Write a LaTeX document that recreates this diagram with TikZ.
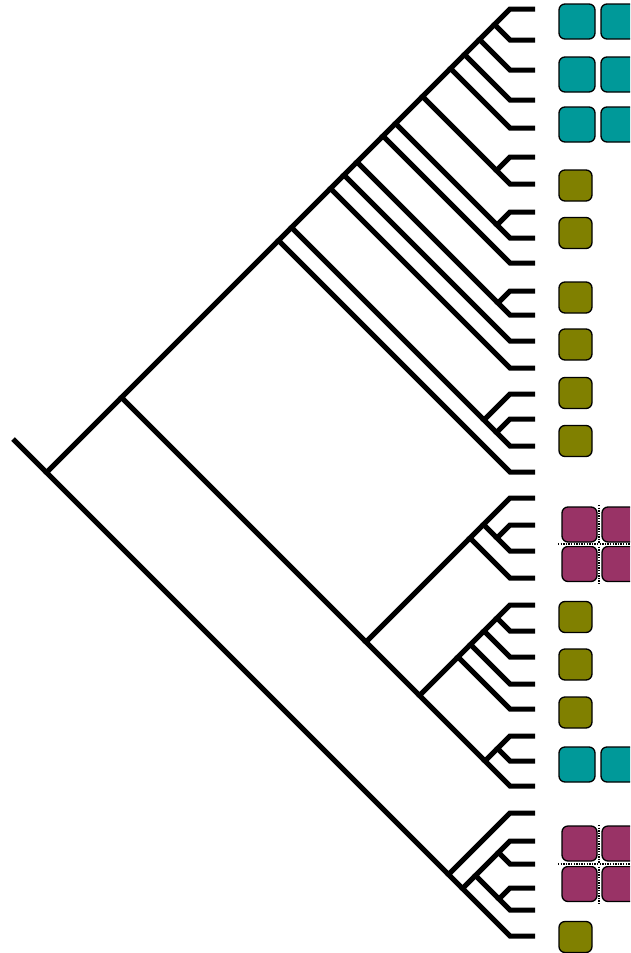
\documentclass[tikz,border=0pt]{standalone}
\definecolor{tealc}{RGB}{0,153,153}
\definecolor{olivec}{RGB}{128,128,0}
\definecolor{magc}{RGB}{153,51,102}
\begin{document}
\begin{tikzpicture}[x=1pt,y=-1pt,
  br/.style={line width=5pt, line join=miter, line cap=butt},
  boxbase/.style={draw=black, line width=1.3pt, rounded corners=6pt, inner sep=0pt},
  tealbox/.style={boxbase, fill=tealc, minimum width=36pt, minimum height=35pt},
  olivebox/.style={boxbase, fill=olivec, minimum width=33pt, minimum height=31pt},
  magbox/.style={boxbase, fill=magc, minimum width=35pt, minimum height=35pt},
  sepback/.style={line width=3pt, white},
  sep/.style={line width=1.4pt, dash pattern=on 1.3pt off 1.3pt}]
\useasboundingbox (0,0) rectangle (630,953);
\clip (0,0) rectangle (630,953);
% leaves: diagonal end (l) and stub tip (t)
\foreach \i/\y in {1/9,2/40,3/70,4/100,5/128,6/157,7/184,8/212,9/238,10/263,11/291,12/315,13/341,14/368,15/394,16/419,17/446,18/472,19/498,20/525,21/551,22/578,23/605,24/631,25/657,26/684,27/709,28/736,29/761,30/786,31/813,32/841,33/864,34/888,35/910,36/936}{
  \coordinate (l\i) at (510,\y);
  \coordinate (t\i) at (535,\y);
}
% internal nodes
\coordinate (a1) at (494.5,24.5);
\coordinate (a2) at (479.5,39.5);
\coordinate (a3) at (464.5,54.5);
\coordinate (a4) at (450.5,68.5);
\coordinate (c1) at (496.5,170.5);
\coordinate (a5) at (422.5,96.5);
\coordinate (c2) at (497,225);
\coordinate (a6) at (395.5,123.5);
\coordinate (a7) at (383,136);
\coordinate (c3) at (498,303);
\coordinate (a8) at (357,162);
\coordinate (a9) at (344,175);
\coordinate (a10) at (330.5,188.5);
\coordinate (c4) at (496.5,432.5);
\coordinate (c5) at (484,420);
\coordinate (a11) at (291.5,227.5);
\coordinate (A1) at (278.5,240.5);
\coordinate (c6) at (497,538);
\coordinate (c7) at (483.5,524.5);
\coordinate (C) at (470,538);
\coordinate (e1) at (497,618);
\coordinate (e2) at (484,631);
\coordinate (e3) at (470.5,644.5);
\coordinate (E) at (458,657);
\coordinate (f1) at (497.5,748.5);
\coordinate (F) at (485,761);
\coordinate (D) at (419.5,695.5);
\coordinate (A2) at (366,642);
\coordinate (A) at (121.5,397.5);
\coordinate (b1) at (498.5,852.5);
\coordinate (b2) at (499,899);
\coordinate (b3) at (475.5,875.5);
\coordinate (b4) at (462.5,888.5);
\coordinate (B) at (448.5,874.5);
\coordinate (R) at (46.5,472.5);
\coordinate (rs) at (13,439);
% tree
\draw[br] (rs) -- (R);
\draw[br] (A) -- (R) -- (B);
\draw[br] (A1) -- (A) -- (A2);
\draw[br] (a11) -- (A1) -- (l18) -- (t18);
\draw[br] (a10) -- (a11) -- (c5);
\draw[br] (t15) -- (l15) -- (c5) -- (c4);
\draw[br] (t16) -- (l16) -- (c4) -- (l17) -- (t17);
\draw[br] (a9) -- (a10) -- (l14) -- (t14);
\draw[br] (a8) -- (a9) -- (l13) -- (t13);
\draw[br] (a7) -- (a8) -- (c3);
\draw[br] (t11) -- (l11) -- (c3) -- (l12) -- (t12);
\draw[br] (a6) -- (a7) -- (l10) -- (t10);
\draw[br] (a5) -- (a6) -- (c2);
\draw[br] (t8) -- (l8) -- (c2) -- (l9) -- (t9);
\draw[br] (a4) -- (a5) -- (c1);
\draw[br] (t6) -- (l6) -- (c1) -- (l7) -- (t7);
\draw[br] (a3) -- (a4) -- (l5) -- (t5);
\draw[br] (a2) -- (a3) -- (l4) -- (t4);
\draw[br] (a1) -- (a2) -- (l3) -- (t3);
\draw[br] (t1) -- (l1) -- (a1) -- (l2) -- (t2);
\draw[br] (C) -- (A2) -- (D);
\draw[br] (c7) -- (C) -- (l22) -- (t22);
\draw[br] (t19) -- (l19) -- (c7) -- (c6);
\draw[br] (t20) -- (l20) -- (c6) -- (l21) -- (t21);
\draw[br] (E) -- (D) -- (F);
\draw[br] (e3) -- (E) -- (l27) -- (t27);
\draw[br] (e2) -- (e3) -- (l26) -- (t26);
\draw[br] (e1) -- (e2) -- (l25) -- (t25);
\draw[br] (t23) -- (l23) -- (e1) -- (l24) -- (t24);
\draw[br] (f1) -- (F) -- (l30) -- (t30);
\draw[br] (t28) -- (l28) -- (f1) -- (l29) -- (t29);
\draw[br] (t31) -- (l31) -- (B) -- (b4);
\draw[br] (b3) -- (b4) -- (l36) -- (t36);
\draw[br] (b1) -- (b3) -- (b2);
\draw[br] (t32) -- (l32) -- (b1) -- (l33) -- (t33);
\draw[br] (t34) -- (l34) -- (b2) -- (l35) -- (t35);
% teal boxes
\node[tealbox] (tq1) at (577,21.5) {};
\node[tealbox] (tq2) at (619,21.5) {};
\node[tealbox] (tq3) at (577,74.5) {};
\node[tealbox] (tq4) at (619,74.5) {};
\node[tealbox] (tq5) at (577,124.5) {};
\node[tealbox] (tq6) at (619,124.5) {};
\node[tealbox] (tq7) at (577,764.5) {};
\node[tealbox] (tq8) at (619,764.5) {};
% olive boxes
\foreach \k/\y in {1/185.5,2/233,3/297.5,4/344.5,5/393,6/441,7/617,8/664.5,9/712.5,10/937}{
  \node[olivebox] (ob\k) at (575.5,\y) {};
}
% magenta grids
\node[magbox] (mg1) at (579.5,524.5) {};
\node[magbox] (mg2) at (619.5,524.5) {};
\node[magbox] (mg3) at (579.5,564) {};
\node[magbox] (mg4) at (619.5,564) {};
\node[magbox] (mg5) at (579.5,843.5) {};
\node[magbox] (mg6) at (619.5,843.5) {};
\node[magbox] (mg7) at (579.5,884) {};
\node[magbox] (mg8) at (619.5,884) {};
\coordinate (v1a) at (599,505); \coordinate (v1b) at (599,585);
\coordinate (h1a) at (558,544); \coordinate (h1b) at (632,544);
\coordinate (v2a) at (599,825); \coordinate (v2b) at (599,904);
\coordinate (h2a) at (558,864); \coordinate (h2b) at (632,864);
\foreach \p/\q in {v1a/v1b,h1a/h1b,v2a/v2b,h2a/h2b}{
  \draw[sepback] (\p) -- (\q);
  \draw[sep] (\p) -- (\q);
}
\end{tikzpicture}
\end{document}
